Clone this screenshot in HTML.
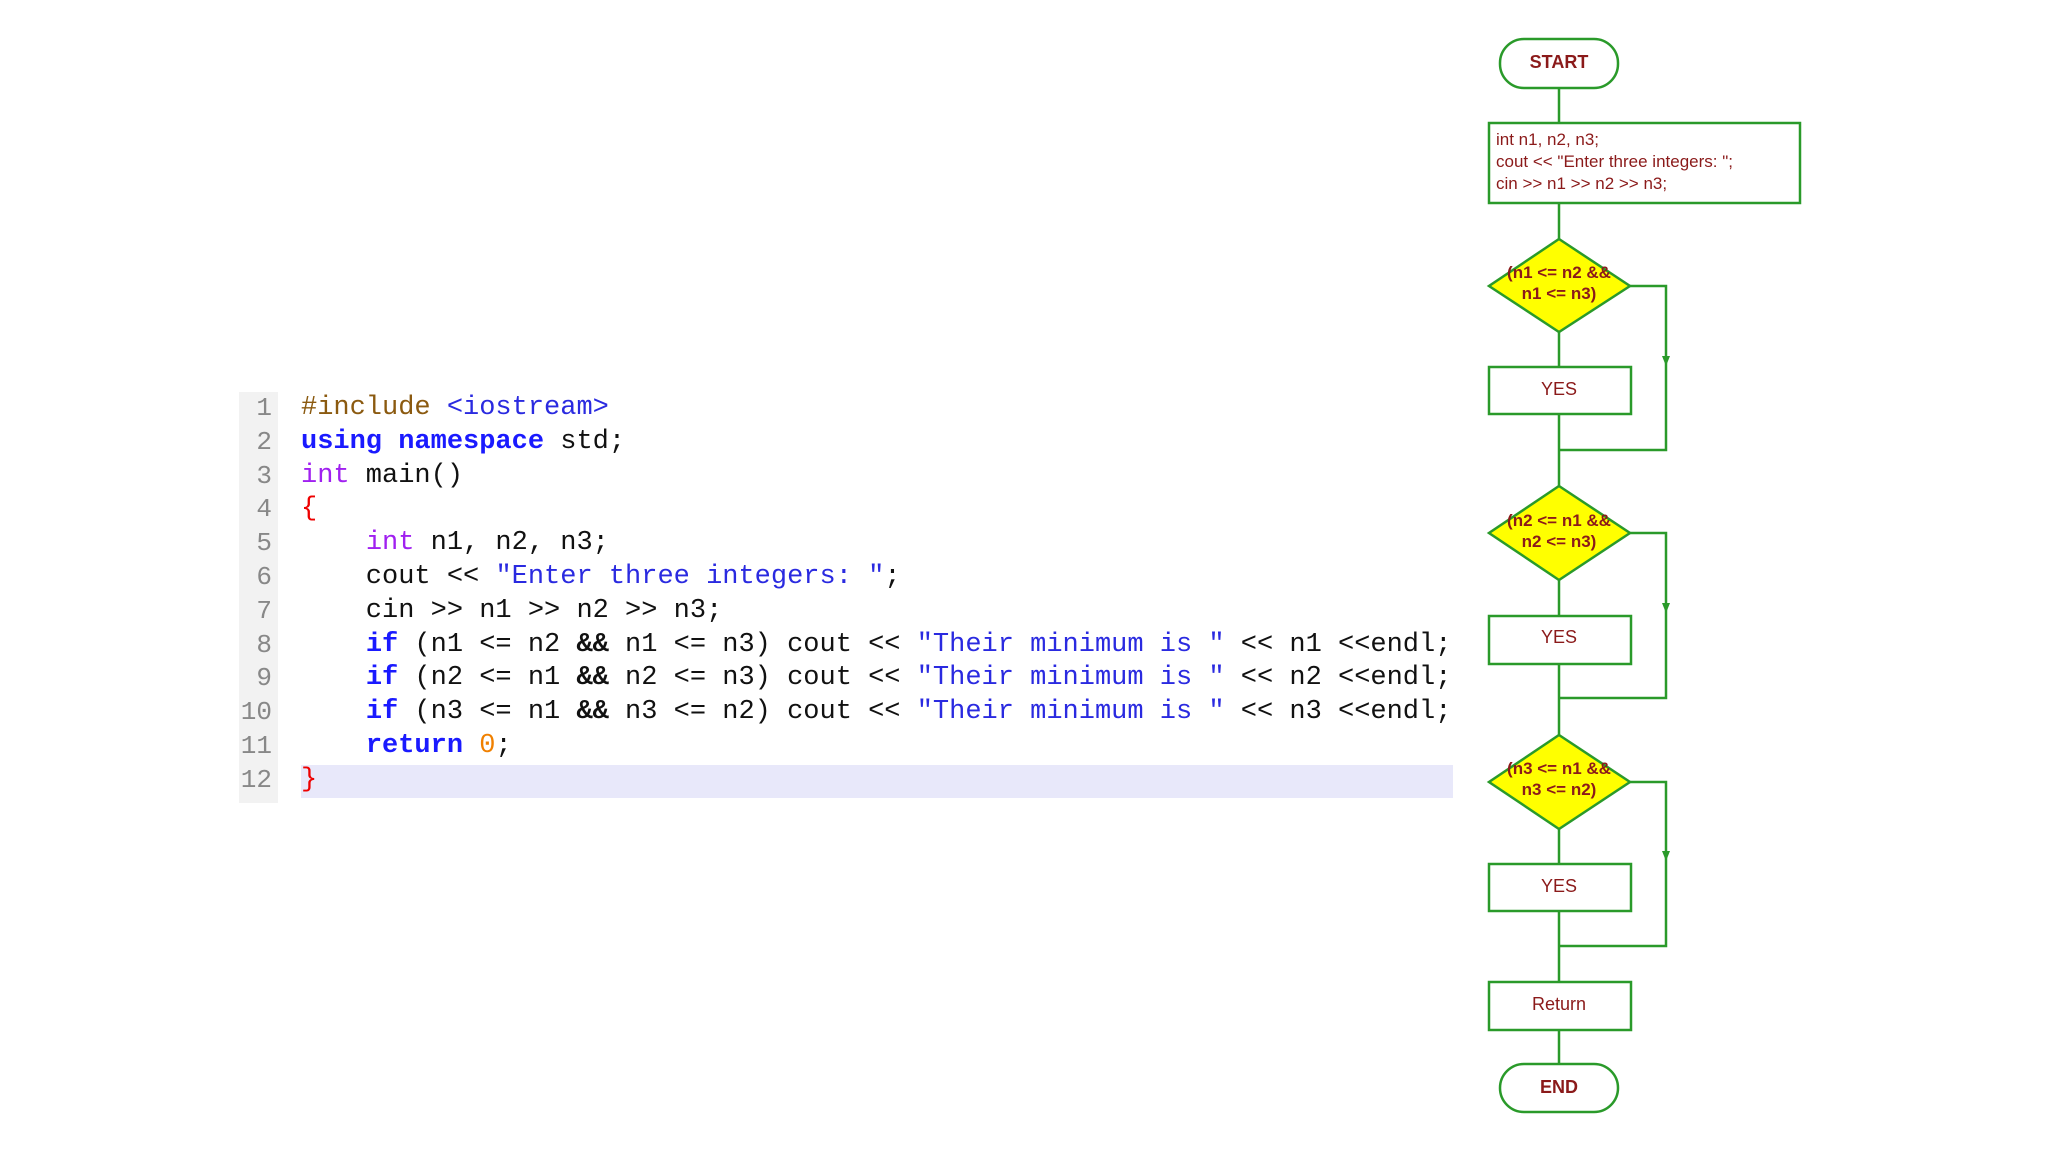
<!DOCTYPE html>
<html><head><meta charset="utf-8"><style>
body{margin:0;width:2048px;height:1152px;background:#fff;position:relative;overflow:hidden;font-family:"Liberation Sans",sans-serif}
.code{position:absolute;left:301px;top:392px;font-family:"Liberation Mono",monospace;font-size:27px;line-height:33.8px;white-space:pre;color:#111}
.gut{position:absolute;left:239px;top:392px;width:39px;height:411px;background:#f2f2f2}
.ln{position:absolute;left:239px;top:392px;width:33px;text-align:right;font-family:"Liberation Mono",monospace;font-size:26px;line-height:33.8px;color:#888;white-space:pre}
.hl{position:absolute;left:301px;top:765px;width:1152px;height:33px;background:#e8e8fa}
.k{color:#1a1aff;font-weight:bold}.t{color:#a020f0}.s{color:#2a2ae0}.p{color:#8b5a10}.r{color:#e00}.o{color:#f08000}
</style></head><body>
<div class="gut"></div>
<div class="hl"></div>
<div class="ln">1
2
3
4
5
6
7
8
9
10
11
12</div>
<div class="code"><span class="p">#include</span> <span class="s">&lt;iostream&gt;</span>
<span class="k">using</span> <span class="k">namespace</span> std;
<span class="t">int</span> main()
<span class="r">{</span>
    <span class="t">int</span> n1, n2, n3;
    cout &lt;&lt; <span class="s">"Enter three integers: "</span>;
    cin &gt;&gt; n1 &gt;&gt; n2 &gt;&gt; n3;
    <span class="k">if</span> (n1 &lt;= n2 <b>&amp;&amp;</b> n1 &lt;= n3) cout &lt;&lt; <span class="s">"Their minimum is "</span> &lt;&lt; n1 &lt;&lt;endl;
    <span class="k">if</span> (n2 &lt;= n1 <b>&amp;&amp;</b> n2 &lt;= n3) cout &lt;&lt; <span class="s">"Their minimum is "</span> &lt;&lt; n2 &lt;&lt;endl;
    <span class="k">if</span> (n3 &lt;= n1 <b>&amp;&amp;</b> n3 &lt;= n2) cout &lt;&lt; <span class="s">"Their minimum is "</span> &lt;&lt; n3 &lt;&lt;endl;
    <span class="k">return</span> <span class="o">0</span>;
<span class="r">}</span></div>
<svg width="2048" height="1152" style="position:absolute;left:0;top:0" font-family="Liberation Sans, sans-serif">
<g stroke="#2a9a2a" stroke-width="2.5" fill="none">
<rect x="1500" y="39" width="118" height="49" rx="24" fill="#fff"/>
<line x1="1559" y1="88" x2="1559" y2="123"/>
<rect x="1489" y="123" width="311" height="80" fill="#fff"/>
<line x1="1559" y1="203" x2="1559" y2="1064"/>
<polygon points="1559,239 1630,286 1559,332 1489,286" fill="#ffff00"/>
<polygon points="1559,486 1630,533 1559,580 1489,533" fill="#ffff00"/>
<polygon points="1559,735 1630,782 1559,829 1489,782" fill="#ffff00"/>
<polyline points="1630,286 1666,286 1666,450 1559,450"/>
<polyline points="1630,533 1666,533 1666,698 1559,698"/>
<polyline points="1630,782 1666,782 1666,946 1559,946"/>
<rect x="1489" y="367" width="142" height="47" fill="#fff"/>
<rect x="1489" y="616" width="142" height="48" fill="#fff"/>
<rect x="1489" y="864" width="142" height="47" fill="#fff"/>
<rect x="1489" y="982" width="142" height="48" fill="#fff"/>
<rect x="1500" y="1064" width="118" height="48" rx="24" fill="#fff"/>
</g>
<g fill="#2a9a2a">
<polygon points="1662,356 1670,356 1666,366"/>
<polygon points="1662,603 1670,603 1666,613"/>
<polygon points="1662,851 1670,851 1666,861"/>
</g>
<g fill="#8b1a1a" font-size="17">
<text x="1559" y="68" text-anchor="middle" font-weight="bold" font-size="18">START</text>
<text x="1496" y="145">int n1, n2, n3;</text>
<text x="1496" y="167">cout &lt;&lt; "Enter three integers: ";</text>
<text x="1496" y="189">cin &gt;&gt; n1 &gt;&gt; n2 &gt;&gt; n3;</text>
<g font-weight="bold" text-anchor="middle">
<text x="1559" y="278">(n1 &lt;= n2 &amp;&amp;</text><text x="1559" y="299">n1 &lt;= n3)</text>
<text x="1559" y="526">(n2 &lt;= n1 &amp;&amp;</text><text x="1559" y="547">n2 &lt;= n3)</text>
<text x="1559" y="774">(n3 &lt;= n1 &amp;&amp;</text><text x="1559" y="795">n3 &lt;= n2)</text>
</g>
<g text-anchor="middle" font-size="18">
<text x="1559" y="395">YES</text>
<text x="1559" y="643">YES</text>
<text x="1559" y="892">YES</text>
<text x="1559" y="1010">Return</text>
<text x="1559" y="1093" font-weight="bold">END</text>
</g>
</g>
</svg>
</body></html>
